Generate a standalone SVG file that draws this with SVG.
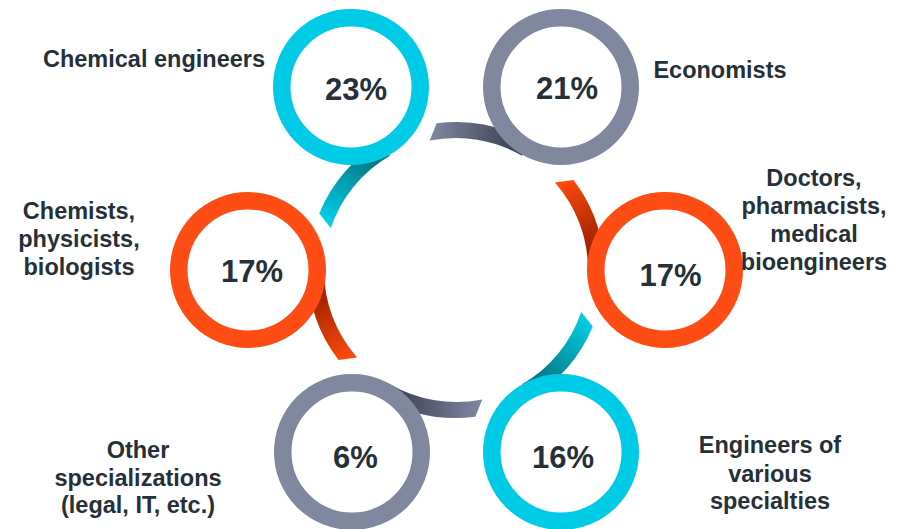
<svg xmlns="http://www.w3.org/2000/svg" width="908" height="529" viewBox="0 0 908 529">
<defs>
<linearGradient id="gCyan" gradientUnits="userSpaceOnUse" x1="138.6" y1="-19.5" x2="107.2" y2="-90">
<stop offset="0" stop-color="#077886"/><stop offset="1" stop-color="#00cfe8"/>
</linearGradient>
<linearGradient id="gGray" gradientUnits="userSpaceOnUse" x1="138.6" y1="-19.5" x2="107.2" y2="-90">
<stop offset="0" stop-color="#41485c"/><stop offset="1" stop-color="#7f869e"/>
</linearGradient>
<linearGradient id="gOrange" gradientUnits="userSpaceOnUse" x1="138.6" y1="-19.5" x2="107.2" y2="-90">
<stop offset="0" stop-color="#9a2000"/><stop offset="1" stop-color="#ff4a0e"/>
</linearGradient>
<path id="ribbon" d="M148,0 A148,148 0 0 0 117.4,-90.1 L98.9,-87.5 A132,132 0 0 1 132,0 Z"/>
</defs>
<style>
.ring{fill:#ffffff;stroke-width:17.5}
.cyan{stroke:#00cbe6}
.gray{stroke:#7f889f}
.orange{stroke:#fd4c14}
.pct{font-family:"Liberation Sans",Arial,sans-serif;font-weight:bold;font-size:31px;fill:#263039;text-anchor:middle}
.lbl{font-family:"Liberation Sans",Arial,sans-serif;font-weight:bold;font-size:23.5px;fill:#263039;text-anchor:middle}
</style>
<rect width="908" height="529" fill="#ffffff"/>
<g id="connectors">
<use href="#ribbon" fill="url(#gOrange)" transform="translate(456,270) rotate(0)"/>
<use href="#ribbon" fill="url(#gCyan)" transform="translate(456,270) rotate(60)"/>
<use href="#ribbon" fill="url(#gGray)" transform="translate(456,270) rotate(120)"/>
<use href="#ribbon" fill="url(#gOrange)" transform="translate(456,270) rotate(180)"/>
<use href="#ribbon" fill="url(#gCyan)" transform="translate(456,270) rotate(240)"/>
<use href="#ribbon" fill="url(#gGray)" transform="translate(456,270) rotate(300)"/>
</g>
<g id="node-chemical-engineers">
<circle class="ring cyan" cx="351" cy="87" r="69.25"/>
<text class="pct" x="356" y="100">23%</text>
<text class="lbl" x="154" y="67">Chemical engineers</text>
</g>
<g id="node-economists">
<circle class="ring gray" cx="561" cy="87" r="69.25"/>
<text class="pct" x="567" y="98.5">21%</text>
<text class="lbl" x="720" y="78">Economists</text>
</g>
<g id="node-chemists">
<circle class="ring orange" cx="248" cy="270" r="69.25"/>
<text class="pct" x="252" y="282">17%</text>
<text class="lbl" x="79" y="219">Chemists,</text>
<text class="lbl" x="79" y="247">physicists,</text>
<text class="lbl" x="79" y="275">biologists</text>
</g>
<g id="node-doctors">
<circle class="ring orange" cx="665" cy="270" r="69.25"/>
<text class="pct" x="670.5" y="285.5">17%</text>
<text class="lbl" x="814" y="186">Doctors,</text>
<text class="lbl" x="814" y="214">pharmacists,</text>
<text class="lbl" x="814" y="242">medical</text>
<text class="lbl" x="814" y="270">bioengineers</text>
</g>
<g id="node-other">
<circle class="ring gray" cx="352" cy="452" r="69.25"/>
<text class="pct" x="355.5" y="468">6%</text>
<text class="lbl" x="138" y="458">Other</text>
<text class="lbl" x="138" y="485.5">specializations</text>
<text class="lbl" x="138" y="513">(legal, IT, etc.)</text>
</g>
<g id="node-engineers">
<circle class="ring cyan" cx="561" cy="452" r="69.25"/>
<text class="pct" x="563" y="468">16%</text>
<text class="lbl" x="770" y="453">Engineers of</text>
<text class="lbl" x="770" y="481.5">various</text>
<text class="lbl" x="770" y="509">specialties</text>
</g>
</svg>
